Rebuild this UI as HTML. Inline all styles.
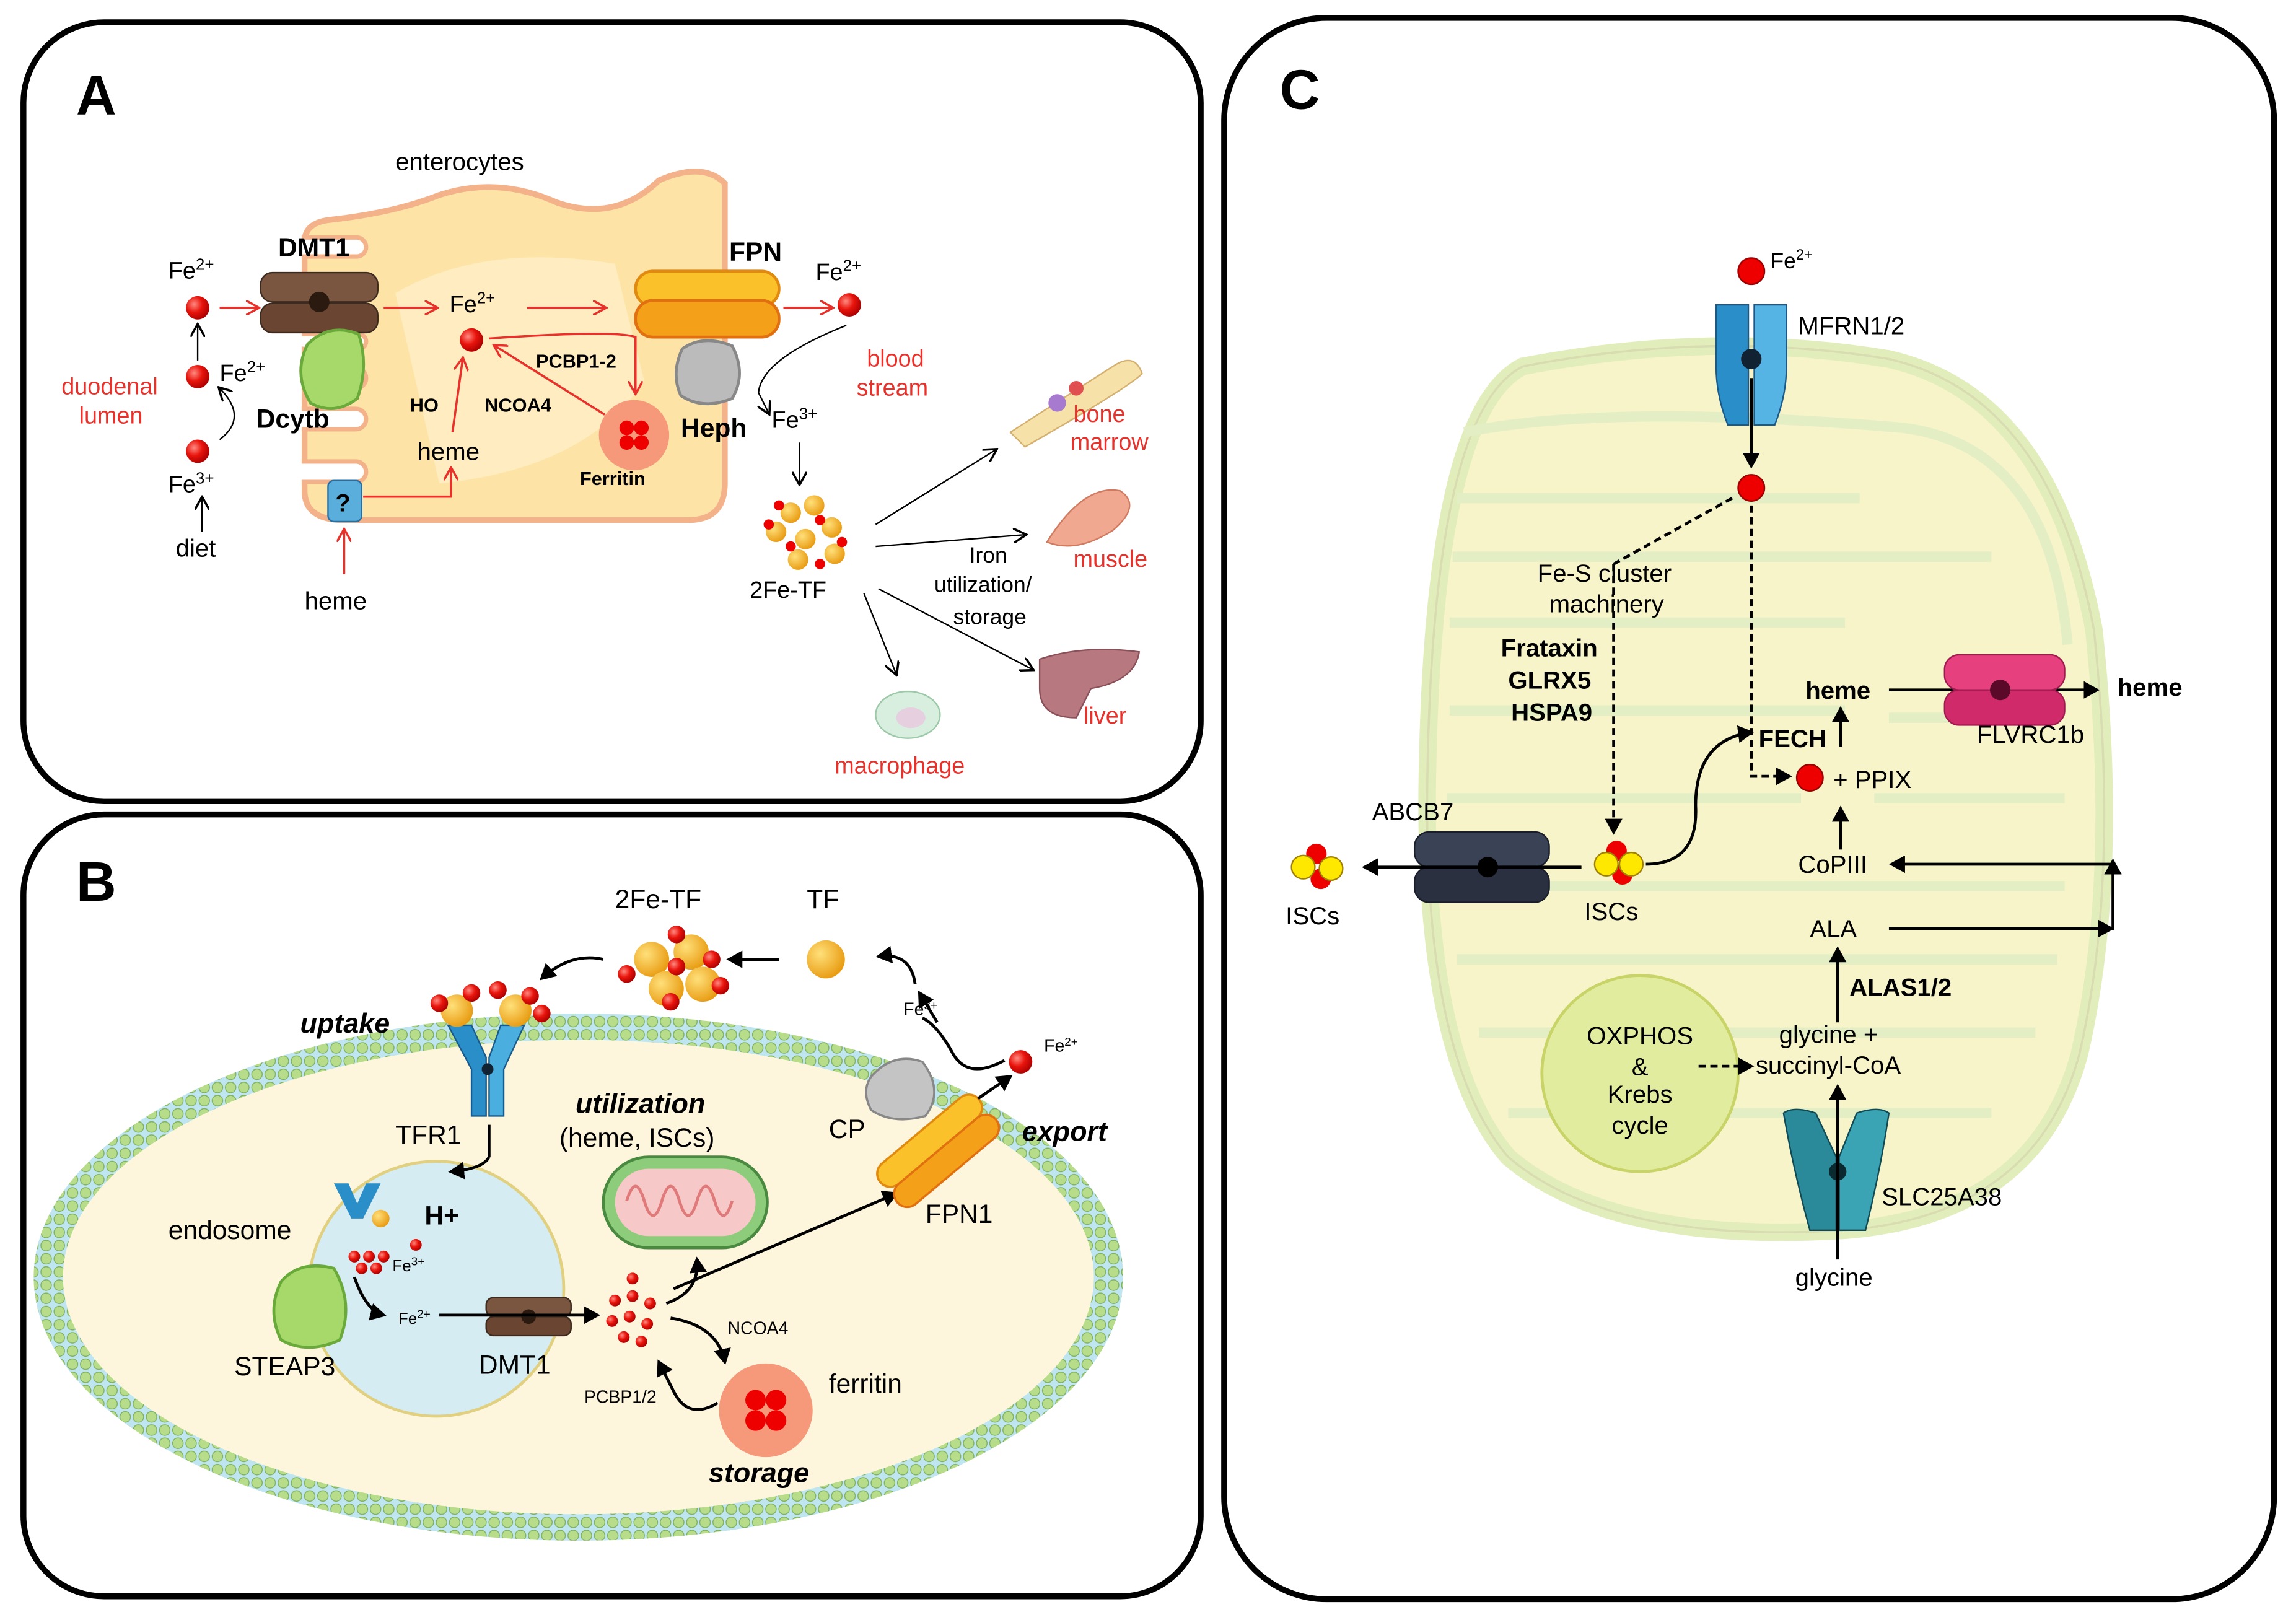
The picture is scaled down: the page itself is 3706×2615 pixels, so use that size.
<!DOCTYPE html>
<html><head><meta charset="utf-8"><style>
html,body{margin:0;padding:0;background:#fff}
svg{display:block}
text{font-family:"Liberation Sans","DejaVu Sans",sans-serif}
.b{font-weight:bold}
.r{fill:#e8312a}
</style></head><body>
<svg width="3706" height="2615" viewBox="0 0 1568 1106" xmlns="http://www.w3.org/2000/svg">
<defs>
<marker id="ak" markerWidth="10" markerHeight="10" refX="8" refY="5" orient="auto" markerUnits="userSpaceOnUse"><path d="M0,0 L9,5 L0,10" fill="none" stroke="#000" stroke-width="1.5"/></marker>
<marker id="ar" markerWidth="10" markerHeight="10" refX="8" refY="5" orient="auto" markerUnits="userSpaceOnUse"><path d="M0,0 L9,5 L0,10" fill="none" stroke="#e8312a" stroke-width="1.5"/></marker>
<marker id="ab" markerWidth="12" markerHeight="12" refX="9" refY="6" orient="auto" markerUnits="userSpaceOnUse"><path d="M0,0 L11,6 L0,12 Z" fill="#000"/></marker>
<radialGradient id="red" cx="0.35" cy="0.35" r="0.7"><stop offset="0" stop-color="#ff8a80"/><stop offset="0.5" stop-color="#e8140c"/><stop offset="1" stop-color="#a00"/></radialGradient>
<radialGradient id="orn" cx="0.35" cy="0.35" r="0.7"><stop offset="0" stop-color="#ffe07a"/><stop offset="1" stop-color="#e89a10"/></radialGradient>
<pattern id="lip" width="9" height="9" patternUnits="userSpaceOnUse"><rect width="9" height="9" fill="#bfe6f0"/><circle cx="4.5" cy="4.5" r="3.6" fill="#b7dc8a" stroke="#7fb060" stroke-width="0.6"/></pattern>
</defs>

<rect x="16" y="15" width="804" height="532" rx="55" fill="#fff" stroke="#000" stroke-width="4"/>
<rect x="16" y="556" width="804" height="534" rx="55" fill="#fff" stroke="#000" stroke-width="4"/>
<rect x="836" y="12" width="717" height="1080" rx="70" fill="#fff" stroke="#000" stroke-width="4"/>
<text x="52" y="78" font-size="38" class="b">A</text>
<text x="52" y="615" font-size="38" class="b">B</text>
<text x="874" y="74" font-size="38" class="b">C</text>

<!-- ========== PANEL A ========== -->
<text x="270" y="116" font-size="17">enterocytes</text>
<path d="M208,165 Q208,152 225,150 Q270,145 300,133 Q340,120 380,138 Q420,152 450,123 Q480,110 495,125 L495,330 Q495,355 470,355 L235,355 Q208,355 208,335 Z" fill="#fde4a6" stroke="#f4b28a" stroke-width="4"/>
<path d="M270,200 Q330,165 420,180 L440,260 Q400,320 300,330 Z" fill="#fff0cc" opacity="0.7"/>
<g fill="#fff" stroke="#f4b28a" stroke-width="3">
<rect x="196" y="162" width="54" height="13" rx="6.5"/>
<rect x="196" y="228" width="54" height="10" rx="5"/>
<rect x="196" y="251" width="54" height="14" rx="7"/>
<rect x="196" y="279" width="54" height="14" rx="7"/>
<rect x="196" y="315" width="54" height="14" rx="7"/>
</g>
<rect x="190" y="150" width="16" height="208" fill="#fff"/>
<rect x="178" y="186" width="80" height="20" rx="8" fill="#7a5640" stroke="#3d2a1e"/>
<rect x="178" y="207" width="80" height="20" rx="8" fill="#6a4632" stroke="#3d2a1e"/>
<circle cx="218" cy="206" r="7" fill="#2a1a10"/>
<text x="190" y="175" font-size="18" class="b">DMT1</text>
<path d="M210,235 Q225,220 245,228 Q252,250 244,272 Q228,284 212,275 Q200,255 210,235Z" fill="#a6d86a" stroke="#6aaa3a" stroke-width="2"/>
<text x="175" y="292" font-size="18" class="b">Dcytb</text>
<rect x="224" y="328" width="23" height="28" rx="4" fill="#5aaedc" stroke="#2a6ea0"/>
<text x="229" y="349" font-size="17" class="b">?</text>
<rect x="434" y="185" width="98" height="24" rx="12" fill="#fbc12a" stroke="#e08a10" stroke-width="2"/>
<rect x="434" y="205" width="98" height="25" rx="12" fill="#f5a019" stroke="#e07010" stroke-width="2"/>
<text x="498" y="178" font-size="18" class="b">FPN</text>
<path d="M466,238 Q480,228 500,236 Q510,255 500,272 Q480,280 465,270 Q458,255 466,238Z" fill="#bbb" stroke="#888" stroke-width="2"/>
<text x="465" y="298" font-size="18" class="b">Heph</text>
<circle cx="433" cy="297" r="24" fill="#f6987a"/>
<circle cx="428" cy="292" r="5" fill="#e00"/><circle cx="438" cy="292" r="5" fill="#e00"/><circle cx="428" cy="302" r="5" fill="#e00"/><circle cx="438" cy="302" r="5" fill="#e00"/>
<text x="396" y="331" font-size="13" class="b">Ferritin</text>
<circle cx="135" cy="210" r="8" fill="url(#red)"/><circle cx="135" cy="257" r="8" fill="url(#red)"/><circle cx="135" cy="308" r="8" fill="url(#red)"/>
<circle cx="322" cy="232" r="8" fill="url(#red)"/><circle cx="580" cy="208" r="8" fill="url(#red)"/>
<text x="115" y="190" font-size="16">Fe<tspan font-size="11" dy="-6">2+</tspan></text>
<text x="150" y="260" font-size="16">Fe<tspan font-size="11" dy="-6">2+</tspan></text>
<text x="115" y="336" font-size="16">Fe<tspan font-size="11" dy="-6">3+</tspan></text>
<text x="307" y="213" font-size="16">Fe<tspan font-size="11" dy="-6">2+</tspan></text>
<text x="557" y="191" font-size="16">Fe<tspan font-size="11" dy="-6">2+</tspan></text>
<text x="527" y="292" font-size="16">Fe<tspan font-size="11" dy="-6">3+</tspan></text>
<text x="120" y="380" font-size="17">diet</text>
<text x="208" y="416" font-size="17">heme</text>
<text x="285" y="314" font-size="17">heme</text>
<text x="42" y="269" font-size="16" class="r">duodenal</text>
<text x="54" y="289" font-size="16" class="r">lumen</text>
<text x="280" y="281" font-size="13" class="b">HO</text>
<text x="331" y="281" font-size="13" class="b">NCOA4</text>
<text x="366" y="251" font-size="13" class="b">PCBP1-2</text>
<text x="592" y="250" font-size="16" class="r">blood</text>
<text x="585" y="270" font-size="16" class="r">stream</text>
<line x1="135" y1="246" x2="135" y2="222" stroke="#000" marker-end="url(#ak)"/>
<line x1="138" y1="363" x2="138" y2="340" stroke="#000" marker-end="url(#ak)"/>
<path d="M150,300 Q170,285 150,265" fill="none" stroke="#000" marker-end="url(#ak)"/>
<path d="M578,222 Q520,245 518,268 L525,282" fill="none" stroke="#000" marker-end="url(#ak)"/>
<line x1="546" y1="302" x2="546" y2="330" stroke="#000" marker-end="url(#ak)"/>
<line x1="150" y1="210" x2="176" y2="210" stroke="#e8312a" stroke-width="1.5" marker-end="url(#ar)"/>
<line x1="262" y1="210" x2="298" y2="210" stroke="#e8312a" stroke-width="1.5" marker-end="url(#ar)"/>
<line x1="360" y1="210" x2="413" y2="210" stroke="#e8312a" stroke-width="1.5" marker-end="url(#ar)"/>
<line x1="535" y1="210" x2="568" y2="210" stroke="#e8312a" stroke-width="1.5" marker-end="url(#ar)"/>
<line x1="309" y1="295" x2="316" y2="245" stroke="#e8312a" stroke-width="1.5" marker-end="url(#ar)"/>
<path d="M334,231 Q420,225 434,230 L434,268" fill="none" stroke="#e8312a" stroke-width="1.5" marker-end="url(#ar)"/>
<line x1="413" y1="283" x2="338" y2="236" stroke="#e8312a" stroke-width="1.5" marker-end="url(#ar)"/>
<path d="M248,339 L308,339 L308,320" fill="none" stroke="#e8312a" stroke-width="1.5" marker-end="url(#ar)"/>
<line x1="235" y1="392" x2="235" y2="362" stroke="#e8312a" stroke-width="1.5" marker-end="url(#ar)"/>
<g>
<circle cx="540" cy="350" r="7" fill="url(#orn)"/><circle cx="556" cy="345" r="7" fill="url(#orn)"/><circle cx="530" cy="363" r="7" fill="url(#orn)"/><circle cx="550" cy="368" r="7" fill="url(#orn)"/><circle cx="568" cy="360" r="7" fill="url(#orn)"/><circle cx="545" cy="382" r="7" fill="url(#orn)"/><circle cx="570" cy="378" r="7" fill="url(#orn)"/>
<circle cx="532" cy="345" r="3.5" fill="#e00"/><circle cx="525" cy="358" r="3.5" fill="#e00"/><circle cx="560" cy="355" r="3.5" fill="#e00"/><circle cx="540" cy="373" r="3.5" fill="#e00"/><circle cx="575" cy="370" r="3.5" fill="#e00"/><circle cx="560" cy="385" r="3.5" fill="#e00"/>
</g>
<text x="512" y="408" font-size="16">2Fe-TF</text>
<line x1="598" y1="358" x2="680" y2="307" stroke="#000" marker-end="url(#ak)"/>
<line x1="598" y1="373" x2="700" y2="365" stroke="#000" marker-end="url(#ak)"/>
<line x1="590" y1="405" x2="612" y2="460" stroke="#000" marker-end="url(#ak)"/>
<line x1="600" y1="402" x2="705" y2="457" stroke="#000" marker-end="url(#ak)"/>
<text x="662" y="384" font-size="15">Iron</text>
<text x="638" y="404" font-size="15">utilization/</text>
<text x="651" y="426" font-size="15">storage</text>
<path d="M690,295 L760,250 Q775,240 780,255 Q770,265 700,305 Z" fill="#f6e2a8" stroke="#d4b070"/>
<circle cx="722" cy="275" r="6" fill="#a77ad0"/><circle cx="735" cy="265" r="5" fill="#e05050"/>
<text x="733" y="288" font-size="16" class="r">bone</text>
<text x="731" y="307" font-size="16" class="r">marrow</text>
<path d="M715,370 Q740,330 765,335 Q780,345 760,362 Q735,378 715,370Z" fill="#f0a890" stroke="#d07a60"/>
<text x="733" y="387" font-size="16" class="r">muscle</text>
<path d="M710,450 Q740,440 778,445 Q775,465 745,470 L735,490 Q710,490 710,470Z" fill="#b87880" stroke="#8a5058"/>
<text x="740" y="494" font-size="16" class="r">liver</text>
<ellipse cx="620" cy="488" rx="22" ry="16" fill="#d8efe0" stroke="#9cc9a8"/>
<ellipse cx="622" cy="490" rx="10" ry="7" fill="#e6d0e0"/>
<text x="570" y="528" font-size="16" class="r">macrophage</text>

<!-- ========== PANEL B ========== -->
<ellipse cx="395" cy="872" rx="372" ry="180" fill="url(#lip)"/>
<ellipse cx="395" cy="872" rx="352" ry="162" fill="#fdf6dc"/>
<circle cx="298" cy="880" r="87" fill="#d4ecf2" stroke="#e0d080" stroke-width="2"/>
<rect x="412" y="790" width="112" height="62" rx="31" fill="#8ccc7a" stroke="#4a8a40" stroke-width="2"/>
<rect x="420" y="798" width="96" height="46" rx="23" fill="#f7c8c8"/>
<path d="M428,820 q6,-20 12,0 q6,20 12,0 q6,-20 12,0 q6,20 12,0 q6,-20 12,0 q6,20 12,0" fill="none" stroke="#e07a7a" stroke-width="2"/>
<circle cx="523" cy="963" r="32" fill="#f6987a"/>
<circle cx="516" cy="956" r="7" fill="#e00"/><circle cx="530" cy="956" r="7" fill="#e00"/><circle cx="516" cy="970" r="7" fill="#e00"/><circle cx="530" cy="970" r="7" fill="#e00"/>
<!-- TFR1 Y-shape -->
<path d="M306,700 L322,700 L332,722 L332,762 L322,762 L322,730 Z" fill="#2a8fc8" stroke="#1a5a8a"/>
<path d="M358,700 L342,700 L334,722 L334,762 L344,762 L344,730 Z" fill="#4aaede" stroke="#1a5a8a"/>
<circle cx="333" cy="730" r="4" fill="#123"/>
<circle cx="312" cy="690" r="11" fill="url(#orn)"/><circle cx="352" cy="690" r="11" fill="url(#orn)"/>
<circle cx="300" cy="685" r="6" fill="url(#red)"/><circle cx="322" cy="678" r="6" fill="url(#red)"/><circle cx="340" cy="676" r="6" fill="url(#red)"/><circle cx="362" cy="680" r="6" fill="url(#red)"/><circle cx="370" cy="692" r="6" fill="url(#red)"/>
<text x="205" y="705" font-size="19" class="b" font-style="italic">uptake</text>
<text x="270" y="781" font-size="18">TFR1</text>
<path d="M228,808 L238,808 L244,822 L250,808 L260,808 L248,832 L240,832 Z" fill="#2a8fc8"/>
<circle cx="260" cy="832" r="6" fill="url(#orn)"/>
<text x="115" y="846" font-size="18">endosome</text>
<text x="290" y="836" font-size="18" class="b">H+</text>
<path d="M192,875 Q205,860 228,866 Q242,890 232,915 Q210,925 192,915 Q182,895 192,875Z" fill="#a6d86a" stroke="#6aaa3a" stroke-width="2"/>
<text x="160" y="939" font-size="18">STEAP3</text>
<g fill="url(#red)"><circle cx="242" cy="858" r="4"/><circle cx="252" cy="858" r="4"/><circle cx="262" cy="858" r="4"/><circle cx="247" cy="866" r="4"/><circle cx="257" cy="866" r="4"/><circle cx="284" cy="850" r="4"/></g>
<text x="268" y="868" font-size="11">Fe<tspan font-size="8" dy="-4">3+</tspan></text>
<text x="272" y="904" font-size="11">Fe<tspan font-size="8" dy="-4">2+</tspan></text>
<path d="M242,872 Q250,895 262,898" fill="none" stroke="#000" stroke-width="2" marker-end="url(#ab)"/>
<rect x="332" y="886" width="58" height="13" rx="5" fill="#7a5640" stroke="#3d2a1e"/>
<rect x="332" y="899" width="58" height="13" rx="5" fill="#6a4632" stroke="#3d2a1e"/>
<circle cx="361" cy="899" r="5" fill="#2a1a10"/>
<text x="327" y="938" font-size="18">DMT1</text>
<line x1="300" y1="898" x2="408" y2="898" stroke="#000" stroke-width="2" marker-end="url(#ab)"/>
<g fill="url(#red)"><circle cx="420" cy="888" r="4"/><circle cx="432" cy="885" r="4"/><circle cx="444" cy="890" r="4"/><circle cx="418" cy="902" r="4"/><circle cx="430" cy="899" r="4"/><circle cx="442" cy="904" r="4"/><circle cx="426" cy="913" r="4"/><circle cx="438" cy="916" r="4"/><circle cx="432" cy="873" r="4"/></g>
<path d="M455,890 Q478,882 476,860" fill="none" stroke="#000" stroke-width="2" marker-end="url(#ab)"/>
<line x1="460" y1="880" x2="612" y2="815" stroke="#000" stroke-width="2" marker-end="url(#ab)"/>
<path d="M458,900 Q490,905 495,930" fill="none" stroke="#000" stroke-width="2" marker-end="url(#ab)"/>
<path d="M490,958 Q470,970 460,950 L450,930" fill="none" stroke="#000" stroke-width="2" marker-end="url(#ab)"/>
<text x="497" y="911" font-size="12">NCOA4</text>
<text x="399" y="958" font-size="12">PCBP1/2</text>
<text x="566" y="951" font-size="18">ferritin</text>
<text x="484" y="1012" font-size="19" class="b" font-style="italic">storage</text>
<text x="393" y="760" font-size="19" class="b" font-style="italic">utilization</text>
<text x="382" y="783" font-size="18">(heme, ISCs)</text>
<line x1="334" y1="768" x2="334" y2="790" stroke="#000" stroke-width="2"/>
<path d="M334,790 Q330,798 308,800" fill="none" stroke="#000" stroke-width="2" marker-end="url(#ab)"/>
<g transform="rotate(-40 640 785)">
<rect x="596" y="768" width="88" height="18" rx="9" fill="#fbc12a" stroke="#e08a10" stroke-width="1.5"/>
<rect x="596" y="786" width="88" height="18" rx="9" fill="#f5a019" stroke="#e07010" stroke-width="1.5"/>
</g>
<path d="M595,735 Q610,718 630,725 Q645,745 632,762 Q610,768 595,758 Q588,745 595,735Z" fill="#c4c4c4" stroke="#888" stroke-width="1.5"/>
<text x="566" y="777" font-size="18">CP</text>
<text x="632" y="835" font-size="18">FPN1</text>
<text x="698" y="779" font-size="19" class="b" font-style="italic">export</text>
<circle cx="697" cy="725" r="8" fill="url(#red)"/>
<text x="713" y="718" font-size="12">Fe<tspan font-size="8" dy="-4">2+</tspan></text>
<line x1="668" y1="750" x2="690" y2="735" stroke="#000" stroke-width="2" marker-end="url(#ab)"/>
<path d="M686,724 Q660,738 650,718 Q640,700 630,695" fill="none" stroke="#000" stroke-width="2"/>
<path d="M640,698 L628,678" fill="none" stroke="#000" stroke-width="2" marker-end="url(#ab)"/>
<text x="617" y="693" font-size="12">Fe<tspan font-size="8" dy="-4">3+</tspan></text>
<path d="M625,672 Q622,650 600,653" fill="none" stroke="#000" stroke-width="2" marker-end="url(#ab)"/>
<circle cx="564" cy="655" r="13" fill="url(#orn)"/>
<text x="551" y="620" font-size="18">TF</text>
<line x1="532" y1="655" x2="498" y2="655" stroke="#000" stroke-width="2" marker-end="url(#ab)"/>
<g>
<circle cx="445" cy="655" r="12" fill="url(#orn)"/><circle cx="472" cy="650" r="12" fill="url(#orn)"/><circle cx="480" cy="672" r="12" fill="url(#orn)"/><circle cx="455" cy="675" r="12" fill="url(#orn)"/>
<g fill="url(#red)"><circle cx="428" cy="665" r="6"/><circle cx="462" cy="638" r="6"/><circle cx="492" cy="673" r="6"/><circle cx="458" cy="684" r="6"/><circle cx="462" cy="660" r="6"/><circle cx="486" cy="655" r="6"/></g>
</g>
<text x="420" y="620" font-size="18">2Fe-TF</text>
<path d="M412,655 Q390,650 370,668" fill="none" stroke="#000" stroke-width="2" marker-end="url(#ab)"/>

<!-- ========== PANEL C ========== -->
<path d="M1040,250 Q1170,225 1290,245 Q1400,270 1430,430 Q1448,600 1420,720 Q1390,830 1260,840 Q1100,850 1030,790 Q970,720 975,520 Q980,280 1040,250Z" fill="#f6f4c8" stroke="#e2edbc" stroke-width="12"/>
<path d="M1040,250 Q1170,225 1290,245 Q1400,270 1430,430 Q1448,600 1420,720 Q1390,830 1260,840 Q1100,850 1030,790 Q970,720 975,520 Q980,280 1040,250Z" fill="none" stroke="#d8dcb0" stroke-width="1.5"/>
<g fill="none" stroke="#e4eec4" stroke-width="7">
<path d="M1000,295 Q1100,275 1300,292 Q1400,305 1412,440"/>
<path d="M995,340 L1270,340"/>
<path d="M992,380 L1360,380"/>
<path d="M990,425 L1260,425"/>
<path d="M990,485 L1260,485 M1290,490 L1405,490"/>
<path d="M988,545 L1230,545 M1280,545 L1410,545"/>
<path d="M990,605 L1410,605"/>
<path d="M995,655 L1405,655"/>
<path d="M1010,705 L1390,705"/>
<path d="M1030,760 L1360,760"/>
</g>
<circle cx="1120" cy="733" r="67" fill="#e2ec9e" stroke="#c8d468" stroke-width="2"/>
<text x="1120" y="713" font-size="17" text-anchor="middle">OXPHOS</text>
<text x="1120" y="734" font-size="17" text-anchor="middle">&amp;</text>
<text x="1120" y="753" font-size="17" text-anchor="middle">Krebs</text>
<text x="1120" y="774" font-size="17" text-anchor="middle">cycle</text>
<circle cx="1196" cy="185" r="9" fill="#e00" stroke="#900"/>
<text x="1209" y="183" font-size="15">Fe<tspan font-size="10" dy="-6">2+</tspan></text>
<path d="M1172,208 L1194,208 L1194,290 L1180,290 Q1172,270 1172,250Z" fill="#2a8fc8" stroke="#1a5a8a"/>
<path d="M1198,208 L1220,208 L1220,250 Q1220,270 1212,290 L1198,290Z" fill="#56b4e4" stroke="#1a5a8a"/>
<circle cx="1196" cy="245" r="7" fill="#123"/>
<text x="1228" y="228" font-size="17">MFRN1/2</text>
<line x1="1196" y1="258" x2="1196" y2="318" stroke="#000" stroke-width="2" marker-end="url(#ab)"/>
<circle cx="1196" cy="333" r="9" fill="#e00" stroke="#900"/>
<line x1="1183" y1="340" x2="1102" y2="385" stroke="#000" stroke-width="2" stroke-dasharray="5,3"/>
<line x1="1102" y1="385" x2="1102" y2="568" stroke="#000" stroke-width="2" stroke-dasharray="5,3" marker-end="url(#ab)"/>
<path d="M1196,345 L1196,530 L1222,530" fill="none" stroke="#000" stroke-width="2" stroke-dasharray="5,3" marker-end="url(#ab)"/>
<text x="1050" y="397" font-size="17">Fe-S cluster</text>
<text x="1058" y="418" font-size="17">machinery</text>
<text x="1025" y="448" font-size="17" class="b">Frataxin</text>
<text x="1030" y="470" font-size="17" class="b">GLRX5</text>
<text x="1032" y="492" font-size="17" class="b">HSPA9</text>
<circle cx="1104" cy="581" r="7" fill="#e00"/><circle cx="1108" cy="597" r="7" fill="#e00"/><circle cx="1097" cy="590" r="8" fill="#ffe800" stroke="#a08000"/><circle cx="1114" cy="590" r="8" fill="#ffe800" stroke="#a08000"/>
<text x="1082" y="628" font-size="17">ISCs</text>
<circle cx="899" cy="583" r="7" fill="#e00"/><circle cx="902" cy="600" r="7" fill="#e00"/><circle cx="890" cy="592" r="8" fill="#ffe800" stroke="#a08000"/><circle cx="909" cy="593" r="8" fill="#ffe800" stroke="#a08000"/>
<text x="878" y="631" font-size="17">ISCs</text>
<rect x="966" y="568" width="92" height="24" rx="10" fill="#3a4256" stroke="#1a1e2a"/>
<rect x="966" y="592" width="92" height="24" rx="10" fill="#2a3040" stroke="#1a1e2a"/>
<circle cx="1016" cy="592" r="7" fill="#000"/>
<text x="937" y="560" font-size="17">ABCB7</text>
<line x1="1080" y1="592" x2="932" y2="592" stroke="#000" stroke-width="2" marker-end="url(#ab)"/>
<path d="M1124,590 Q1160,590 1158,550 Q1158,505 1196,500" fill="none" stroke="#000" stroke-width="2" marker-end="url(#ab)"/>
<text x="1201" y="510" font-size="17" class="b">FECH</text>
<circle cx="1236" cy="531" r="9" fill="#e00" stroke="#900"/>
<text x="1252" y="538" font-size="17">+ PPIX</text>
<line x1="1257" y1="510" x2="1257" y2="484" stroke="#000" stroke-width="2" marker-end="url(#ab)"/>
<text x="1233" y="477" font-size="17" class="b">heme</text>
<line x1="1290" y1="471" x2="1432" y2="471" stroke="#000" stroke-width="2" marker-end="url(#ab)"/>
<rect x="1328" y="447" width="82" height="24" rx="10" fill="#e6407e" stroke="#a01a50"/>
<rect x="1328" y="471" width="82" height="24" rx="10" fill="#d02a6a" stroke="#a01a50"/>
<circle cx="1366" cy="471" r="7" fill="#5a0a28"/>
<text x="1350" y="507" font-size="17">FLVRC1b</text>
<text x="1446" y="475" font-size="17" class="b">heme</text>
<line x1="1257" y1="580" x2="1257" y2="552" stroke="#000" stroke-width="2" marker-end="url(#ab)"/>
<text x="1228" y="596" font-size="17">CoPIII</text>
<path d="M1443,635 L1443,588" fill="none" stroke="#000" stroke-width="2" marker-end="url(#ab)"/>
<line x1="1443" y1="590" x2="1292" y2="590" stroke="#000" stroke-width="2" marker-end="url(#ab)"/>
<text x="1236" y="640" font-size="17">ALA</text>
<line x1="1290" y1="634" x2="1442" y2="634" stroke="#000" stroke-width="2" marker-end="url(#ab)"/>
<line x1="1255" y1="698" x2="1255" y2="648" stroke="#000" stroke-width="2" marker-end="url(#ab)"/>
<text x="1263" y="680" font-size="17" class="b">ALAS1/2</text>
<text x="1215" y="712" font-size="17">glycine +</text>
<text x="1199" y="733" font-size="17">succinyl-CoA</text>
<line x1="1160" y1="728" x2="1196" y2="728" stroke="#000" stroke-width="2" stroke-dasharray="5,3" marker-end="url(#ab)"/>
<path d="M1218,760 Q1225,755 1240,760 L1254,790 L1254,840 L1236,840 Q1225,800 1218,760Z" fill="#2a8a9a" stroke="#104a55"/>
<path d="M1290,760 Q1283,755 1268,760 L1256,790 L1256,840 L1274,840 Q1284,800 1290,760Z" fill="#3aa4b4" stroke="#104a55"/>
<circle cx="1255" cy="800" r="6" fill="#0a2a30"/>
<line x1="1255" y1="860" x2="1255" y2="742" stroke="#000" stroke-width="2" marker-end="url(#ab)"/>
<text x="1285" y="823" font-size="17">SLC25A38</text>
<text x="1226" y="878" font-size="17">glycine</text>
</svg>
</body></html>
